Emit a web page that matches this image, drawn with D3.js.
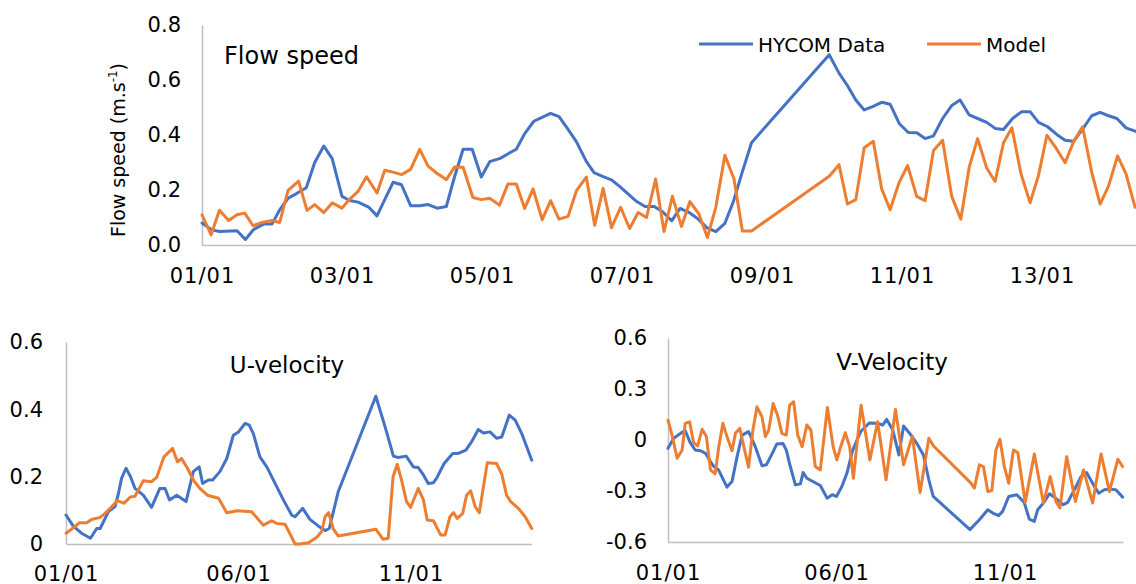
<!DOCTYPE html>
<html>
<head>
<meta charset="utf-8">
<script src="https://cdn.jsdelivr.net/npm/d3@7"></script>
<style>
	body { margin: 0; background: #fff; }
	svg { display: block; font-family: "DejaVu Sans", sans-serif; }
	.tick text { fill: #000; font-size: 21px; }
	.xaxis .tick text { letter-spacing: 1px; }
	.domain { stroke: #bfbfbf; stroke-width: 1.5px; }
</style>
</head>
<body>
<svg id="chart" width="1136" height="584"></svg>
<script>
// series names and colours of the legend
const seriesNames = ["HYCOM Data", "Model"];
const seriesColors = ["#4472c4", "#ed7d31"];

// [day since 01/01, value] - 3 hourly, with a gap around day 8-9
const speedHycom = [
	[0, 0.08], [0.14, 0.055], [0.25, 0.049], [0.5, 0.052], [0.62, 0.02], [0.74, 0.057], [0.88, 0.076], [1.0, 0.076],
	[1.11, 0.128], [1.23, 0.17], [1.35, 0.187], [1.49, 0.208], [1.61, 0.3], [1.74, 0.36], [1.86, 0.314], [2.0, 0.177],
	[2.11, 0.162], [2.23, 0.156], [2.38, 0.138], [2.5, 0.106], [2.61, 0.165], [2.73, 0.228], [2.85, 0.219], [2.98, 0.143],
	[3.11, 0.143], [3.23, 0.147], [3.36, 0.134], [3.49, 0.14], [3.61, 0.25], [3.73, 0.348], [3.86, 0.348], [3.99, 0.247],
	[4.11, 0.303], [4.26, 0.315], [4.38, 0.333], [4.49, 0.348], [4.61, 0.405], [4.74, 0.45], [4.85, 0.463], [4.98, 0.479],
	[5.1, 0.467], [5.22, 0.424], [5.35, 0.375], [5.49, 0.304], [5.6, 0.263], [5.73, 0.249], [5.85, 0.237], [5.97, 0.212],
	[6.09, 0.185], [6.21, 0.158], [6.33, 0.14], [6.46, 0.14], [6.58, 0.121], [6.71, 0.088], [6.83, 0.133], [6.96, 0.118],
	[7.09, 0.094], [7.21, 0.063], [7.34, 0.049], [7.47, 0.079], [7.59, 0.157], [7.72, 0.267], [7.85, 0.372],
	[8.96, 0.692], [9.1, 0.625], [9.22, 0.58], [9.34, 0.527], [9.46, 0.491], [9.58, 0.503], [9.71, 0.519], [9.83, 0.512],
	[9.96, 0.442], [10.09, 0.409], [10.21, 0.408], [10.33, 0.387], [10.45, 0.397], [10.58, 0.46], [10.71, 0.507], [10.83, 0.527],
	[10.96, 0.473], [11.08, 0.46], [11.21, 0.446], [11.33, 0.424], [11.45, 0.42], [11.58, 0.46], [11.71, 0.485], [11.83, 0.485],
	[11.95, 0.446], [12.08, 0.43], [12.21, 0.402], [12.33, 0.381], [12.45, 0.377], [12.57, 0.418], [12.71, 0.47], [12.83, 0.482],
	[12.95, 0.47], [13.07, 0.46], [13.2, 0.426], [13.33, 0.414], [13.45, 0.41]
];
const speedModel = [
	[0, 0.11], [0.13, 0.037], [0.25, 0.126], [0.38, 0.089], [0.5, 0.11], [0.61, 0.116], [0.73, 0.07], [0.86, 0.082],
	[1.0, 0.089], [1.11, 0.082], [1.23, 0.199], [1.38, 0.232], [1.5, 0.126], [1.61, 0.147], [1.74, 0.118], [1.86, 0.153],
	[2.0, 0.134], [2.11, 0.167], [2.23, 0.195], [2.35, 0.248], [2.5, 0.189], [2.61, 0.272], [2.73, 0.265], [2.85, 0.256],
	[2.98, 0.275], [3.11, 0.348], [3.23, 0.287], [3.36, 0.26], [3.49, 0.238], [3.61, 0.284], [3.73, 0.283], [3.87, 0.173],
	[3.99, 0.165], [4.11, 0.17], [4.25, 0.145], [4.37, 0.222], [4.49, 0.222], [4.61, 0.133], [4.73, 0.204], [4.86, 0.092],
	[4.98, 0.161], [5.1, 0.094], [5.23, 0.104], [5.35, 0.198], [5.49, 0.247], [5.61, 0.072], [5.73, 0.206], [5.85, 0.063],
	[5.98, 0.137], [6.11, 0.06], [6.23, 0.118], [6.35, 0.1], [6.48, 0.24], [6.6, 0.049], [6.72, 0.177], [6.85, 0.067],
	[6.97, 0.158], [7.1, 0.112], [7.22, 0.027], [7.34, 0.137], [7.47, 0.326], [7.6, 0.24], [7.72, 0.051], [7.85, 0.051],
	[8.96, 0.25], [9.1, 0.292], [9.22, 0.149], [9.34, 0.165], [9.46, 0.354], [9.59, 0.377], [9.71, 0.204], [9.83, 0.128],
	[9.96, 0.228], [10.08, 0.289], [10.21, 0.177], [10.33, 0.161], [10.45, 0.344], [10.58, 0.381], [10.71, 0.177], [10.84, 0.094],
	[10.96, 0.283], [11.08, 0.387], [11.21, 0.28], [11.33, 0.231], [11.45, 0.372], [11.57, 0.426], [11.7, 0.259], [11.83, 0.153],
	[11.95, 0.253], [12.07, 0.399], [12.2, 0.353], [12.33, 0.299], [12.45, 0.375], [12.58, 0.43], [12.71, 0.265], [12.83, 0.149],
	[12.95, 0.214], [13.08, 0.324], [13.2, 0.259], [13.33, 0.137]
];
const uHycom = [
	[0, 0.086], [0.21, 0.053], [0.45, 0.032], [0.71, 0.017], [0.89, 0.046], [0.99, 0.046], [1.23, 0.096], [1.42, 0.111],
	[1.52, 0.15], [1.61, 0.195], [1.74, 0.225], [1.87, 0.2], [2.0, 0.165], [2.24, 0.145], [2.48, 0.109], [2.72, 0.165],
	[2.87, 0.165], [3.0, 0.131], [3.21, 0.145], [3.48, 0.126], [3.69, 0.215], [3.86, 0.229], [3.96, 0.18], [4.13, 0.19],
	[4.25, 0.19], [4.46, 0.215], [4.66, 0.254], [4.85, 0.323], [5.0, 0.333], [5.19, 0.358], [5.31, 0.353], [5.43, 0.328],
	[5.62, 0.259], [5.82, 0.229], [6.06, 0.18], [6.3, 0.131], [6.54, 0.086], [6.64, 0.081], [6.86, 0.106], [7.07, 0.073],
	[7.32, 0.053], [7.51, 0.04], [7.63, 0.046], [7.89, 0.155],
	[8.98, 0.439], [9.25, 0.348], [9.49, 0.261], [9.63, 0.257], [9.86, 0.261], [10.07, 0.229], [10.21, 0.227], [10.36, 0.205],
	[10.5, 0.18], [10.65, 0.182], [10.74, 0.195], [10.96, 0.239], [11.21, 0.269], [11.37, 0.269], [11.59, 0.279], [11.76, 0.304],
	[11.95, 0.34], [12.1, 0.33], [12.29, 0.333], [12.48, 0.314], [12.63, 0.318], [12.85, 0.383], [13.02, 0.368], [13.21, 0.328],
	[13.5, 0.249]
];
const uModel = [
	[0, 0.032], [0.16, 0.044], [0.39, 0.063], [0.6, 0.063], [0.74, 0.073], [0.99, 0.079], [1.13, 0.091], [1.28, 0.106],
	[1.49, 0.129], [1.68, 0.121], [1.87, 0.14], [2.0, 0.142], [2.24, 0.188], [2.48, 0.185], [2.63, 0.198], [2.84, 0.259],
	[3.09, 0.284], [3.23, 0.244], [3.35, 0.254], [3.52, 0.225], [3.69, 0.19], [3.88, 0.165], [4.1, 0.145], [4.42, 0.136],
	[4.66, 0.093], [4.97, 0.099], [5.38, 0.096], [5.72, 0.056], [5.96, 0.069], [6.11, 0.061], [6.35, 0.059], [6.64, 0.0],
	[6.78, 0.0], [7.03, 0.004], [7.27, 0.02], [7.41, 0.037], [7.51, 0.081], [7.61, 0.093], [7.75, 0.044], [7.89, 0.024],
	[8.98, 0.044], [9.19, 0.014], [9.34, 0.017], [9.48, 0.2], [9.6, 0.237], [9.73, 0.188], [9.87, 0.126], [9.99, 0.109],
	[10.21, 0.165], [10.36, 0.131], [10.47, 0.071], [10.65, 0.069], [10.86, 0.027], [10.99, 0.027], [11.13, 0.081], [11.23, 0.093],
	[11.34, 0.076], [11.5, 0.091], [11.61, 0.145], [11.73, 0.158], [11.86, 0.111], [11.98, 0.093], [12.21, 0.241], [12.48, 0.239],
	[12.63, 0.208], [12.77, 0.145], [12.89, 0.126], [13.11, 0.106], [13.31, 0.081], [13.5, 0.046]
];
const vHycom = [
	[0, -0.049], [0.17, 0.01], [0.37, 0.039], [0.51, 0.055], [0.66, -0.016], [0.81, -0.059], [0.96, -0.063], [1.11, -0.078],
	[1.26, -0.127], [1.36, -0.156], [1.5, -0.176], [1.75, -0.277], [1.9, -0.244], [2.05, -0.098], [2.2, 0.029], [2.39, 0.049],
	[2.59, -0.039], [2.79, -0.152], [2.92, -0.146], [3.12, -0.068], [3.23, -0.023], [3.41, -0.02], [3.51, -0.059], [3.63, -0.156],
	[3.78, -0.264], [3.93, -0.258], [4.01, -0.191], [4.12, -0.225], [4.3, -0.244], [4.52, -0.268], [4.72, -0.342], [4.87, -0.322],
	[5.0, -0.332], [5.16, -0.273], [5.31, -0.195], [5.48, -0.06], [5.72, 0.05], [5.97, 0.1], [6.22, 0.098], [6.37, 0.088],
	[6.49, 0.121], [6.67, 0.059], [6.85, -0.088], [6.99, 0.082], [7.21, 0.029], [7.41, -0.029], [7.58, -0.088], [7.74, -0.234],
	[7.87, -0.332],
	[8.96, -0.527], [9.24, -0.469], [9.49, -0.41], [9.64, -0.43], [9.81, -0.445], [9.93, -0.42], [10.11, -0.332], [10.35, -0.322],
	[10.57, -0.367], [10.72, -0.465], [10.87, -0.479], [10.97, -0.41], [11.14, -0.371], [11.32, -0.316], [11.5, -0.342], [11.73, -0.381],
	[11.86, -0.367], [12.06, -0.293], [12.26, -0.215], [12.42, -0.191], [12.6, -0.254], [12.78, -0.313], [12.95, -0.293], [13.1, -0.289],
	[13.29, -0.293], [13.49, -0.336]
];
const vModel = [
	[0, 0.117], [0.12, 0.029], [0.27, -0.107], [0.42, -0.059], [0.51, 0.098], [0.64, 0.107], [0.76, -0.016], [0.88, -0.035],
	[1.01, 0.063], [1.14, 0.02], [1.26, -0.176], [1.4, -0.199], [1.5, -0.049], [1.63, 0.098], [1.75, 0.02], [1.9, -0.063],
	[2.0, 0.039], [2.13, 0.068], [2.25, -0.039], [2.39, -0.16], [2.52, 0.059], [2.64, 0.195], [2.79, 0.137], [2.89, 0.02],
	[2.99, 0.059], [3.12, 0.215], [3.25, 0.146], [3.38, 0.039], [3.51, 0.029], [3.61, 0.205], [3.73, 0.225], [3.85, 0.029],
	[3.98, -0.039], [4.12, 0.088], [4.24, 0.059], [4.37, -0.156], [4.52, -0.176], [4.73, 0.191], [4.9, -0.039], [5.01, -0.117],
	[5.11, -0.049], [5.26, 0.043], [5.39, -0.039], [5.5, -0.225], [5.73, 0.205], [5.99, -0.117], [6.22, 0.107], [6.47, -0.234],
	[6.75, 0.18], [6.99, -0.146], [7.25, 0.023], [7.48, -0.309], [7.74, 0.01], [7.88, -0.035],
	[8.99, -0.254], [9.09, -0.283], [9.24, -0.146], [9.36, -0.156], [9.49, -0.303], [9.61, -0.297], [9.73, -0.059], [9.85, 0.004],
	[9.98, -0.156], [10.11, -0.254], [10.25, -0.059], [10.38, -0.074], [10.6, -0.367], [10.87, -0.082], [11.14, -0.371], [11.34, -0.215],
	[11.51, -0.361], [11.63, -0.4], [11.83, -0.098], [12.09, -0.361], [12.33, -0.176], [12.6, -0.371], [12.85, -0.082], [13.1, -0.303],
	[13.35, -0.113], [13.49, -0.156]
];

// tick values
const speedTicksY = [0, 0.2, 0.4, 0.6, 0.8];
const uTicksY = [0, 0.2, 0.4, 0.6];
const vTicksY = [-0.6, -0.3, 0, 0.3, 0.6];
const speedTicksX = [0, 2, 4, 6, 8, 10, 12];
const smallTicksX = [0, 5, 10];
const lastDay = 13.5;

const svg = d3.select("#chart");
const dayLabel = (d) => String(d + 1).padStart(2, "0") + "/01";

// d3 axis puts font attrs on the group, drop them so the css applies
const clearFont = (a) => a.attr("font-family", null).attr("font-size", null);

function drawPanel({ left, right, top, bottom, yDomain, yTicks, yFormat, xTicks, yPad, xPad, series }) {
	const x = d3.scaleLinear().domain([0, lastDay]).range([left, right]);
	const y = d3.scaleLinear().domain(yDomain).range([bottom, top]);
	const g = svg.append("g");

	g.append("g")
		.attr("class", "xaxis")
		.attr("transform", `translate(0,${bottom})`)
		.call(d3.axisBottom(x).tickValues(xTicks).tickFormat(dayLabel).tickSize(0).tickPadding(xPad))
		.call(clearFont);

	g.append("g")
		.attr("transform", `translate(${left},0)`)
		.call(d3.axisLeft(y).tickValues(yTicks).tickFormat(yFormat).tickSize(0).tickPadding(yPad))
		.call(clearFont);

	g.selectAll(".domain").attr("stroke", null);
	g.selectAll(".tick line").remove();

	const line = d3.line().x((d) => x(d[0])).y((d) => y(d[1]));
	series.forEach((s, i) => {
		g.append("path")
			.datum(s)
			.attr("d", line)
			.attr("fill", "none")
			.attr("stroke", seriesColors[i])
			.attr("stroke-width", 3)
			.attr("stroke-linejoin", "round")
			.attr("stroke-linecap", "round");
	});
	return g;
}

// top panel - flow speed
const topPanel = drawPanel({
	left: 202, right: 202 + lastDay * 70, top: 25, bottom: 245,
	yDomain: [0, 0.8], yTicks: speedTicksY, yFormat: d3.format(".1f"),
	xTicks: speedTicksX, yPad: 21, xPad: 23,
	series: [speedHycom, speedModel],
});
topPanel.append("text").attr("x", 224).attr("y", 64).attr("font-size", 24).text("Flow speed");

const yLab = svg.append("text")
	.attr("transform", "translate(125,150) rotate(-90)")
	.attr("text-anchor", "middle")
	.attr("font-size", 19);
yLab.append("tspan").text("Flow speed (m.s");
yLab.append("tspan").attr("font-size", 12).attr("dy", -8).text("-1");
yLab.append("tspan").attr("dy", 8).text(")");

// legend
const legend = svg.append("g");
[[699, 758], [927, 986]].forEach(([lx, tx], i) => {
	legend.append("line")
		.attr("x1", lx).attr("x2", lx + 54).attr("y1", 44).attr("y2", 44)
		.attr("stroke", seriesColors[i]).attr("stroke-width", 3);
	legend.append("text").attr("x", tx).attr("y", 52).attr("font-size", 20).text(seriesNames[i]);
});

// bottom left - U velocity
const uPanel = drawPanel({
	left: 66, right: 66 + lastDay * 34.5, top: 342, bottom: 544,
	yDomain: [0, 0.6], yTicks: uTicksY, yFormat: (d) => (d === 0 ? "0" : d3.format(".1f")(d)),
	xTicks: smallTicksX, yPad: 23, xPad: 22,
	series: [uHycom, uModel],
});
uPanel.append("text").attr("x", 287).attr("y", 373).attr("text-anchor", "middle").attr("font-size", 23).text("U-velocity");

// bottom right - V velocity
const vPanel = drawPanel({
	left: 668, right: 668 + lastDay * 33.7, top: 338, bottom: 542,
	yDomain: [-0.6, 0.6], yTicks: vTicksY, yFormat: (d) => (d === 0 ? "0" : d3.format(".1f")(d).replace("\u2212", "-")),
	xTicks: smallTicksX, yPad: 21, xPad: 23,
	series: [vHycom, vModel],
});
vPanel.append("text").attr("x", 892).attr("y", 370).attr("text-anchor", "middle").attr("font-size", 23).text("V-Velocity");
</script>
</body>
</html>
